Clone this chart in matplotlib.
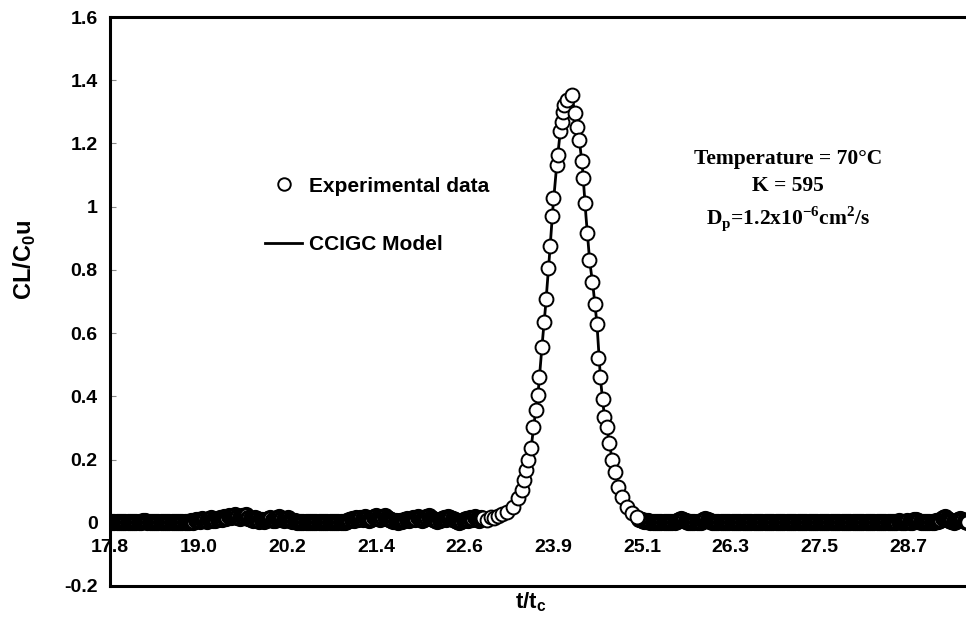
import numpy as np
import matplotlib
matplotlib.use('Agg')
import matplotlib.pyplot as plt
from matplotlib.lines import Line2D

plt.rcParams['font.family'] = ['Liberation Sans', 'DejaVu Sans']
plt.rcParams['font.weight'] = 'bold'
plt.rcParams['mathtext.fontset'] = 'custom'
plt.rcParams['mathtext.bf'] = 'Liberation Serif:bold'
plt.rcParams['mathtext.sf'] = 'Liberation Sans:bold'
plt.rcParams['mathtext.rm'] = 'Liberation Sans:bold'

# --- data ---
sample_step = 0.03

# baseline before the peak (in 1/1000), sampled every 0.03 from 17.80
base_left_start = 17.80
base_left_milli = [2, 1, 2, 3, 2, 1, 2, 3, 2, 2,
                   3, 2, 1, 2, 3, 5, 6, 4, 2, 2,
                   1, 2, 3, 2, 2, 1, 2, 3, 2, 1,
                   2, 3, 2, 2, 3, 4, 3, 5, 4, 8,
                   10, 7, 12, 9, 6, 11, 14, 10, 8, 13,
                   16, 12, 18, 14, 20, 17, 22, 25, 19, 15,
                   21, 18, 24, 16, 12, 9, 14, 11, 7, 10,
                   6, 9, 12, 15, 10, 8, 14, 18, 12, 9,
                   13, 16, 10, 7, 5, 4, 3, 2, 3, 2,
                   2, 1, 2, 3, 2, 2, 1, 2, 3, 2,
                   1, 2, 2, 3, 2, 3, 4, 3, 6, 9,
                   12, 8, 14, 11, 16, 13, 19, 15, 10, 13,
                   17, 21, 14, 11, 18, 22, 16, 12, 9, 7,
                   5, 4, 6, 5, 8, 11, 9, 13, 16, 12,
                   18, 14, 10, 13, 17, 20, 15, 11, 8, 6,
                   9, 12, 16, 13, 19, 15, 11, 8, 5, 4,
                   6, 9, 12, 8, 14, 11, 17, 13, 10, 15]

# peak points (t/tc, CL/C0u)
peak_t = [22.90, 22.95, 23.00, 23.05, 23.10, 23.15, 23.219, 23.31, 23.378, 23.424,
          23.456, 23.483, 23.514, 23.551, 23.583, 23.616, 23.643, 23.665, 23.698, 23.729,
          23.756, 23.788, 23.811, 23.834, 23.856, 23.902, 23.924, 23.948, 23.971, 23.984,
          24.002, 24.039, 24.107, 24.152, 24.176, 24.211, 24.244, 24.266, 24.289, 24.312,
          24.348, 24.381, 24.426, 24.449, 24.467, 24.494, 24.531, 24.549, 24.586, 24.617,
          24.654, 24.699, 24.744, 24.790, 24.858, 24.927, 24.995]
peak_y = [0.015, 0.010, 0.018, 0.014, 0.022, 0.028, 0.035, 0.051, 0.078, 0.104,
          0.135, 0.167, 0.199, 0.236, 0.304, 0.357, 0.404, 0.462, 0.557, 0.636,
          0.707, 0.805, 0.874, 0.969, 1.027, 1.132, 1.164, 1.238, 1.269, 1.301,
          1.322, 1.338, 1.354, 1.296, 1.253, 1.211, 1.143, 1.090, 1.011, 0.916,
          0.832, 0.763, 0.692, 0.629, 0.522, 0.462, 0.392, 0.336, 0.302, 0.252,
          0.199, 0.162, 0.114, 0.080, 0.051, 0.030, 0.019]

# baseline after the peak (in 1/1000), sampled every 0.03 from 25.03
base_right_start = 25.03
base_right_milli = [12, 9, 7, 5, 6, 4, 3, 4, 2, 3,
                    2, 3, 4, 2, 3, 2, 4, 6, 10, 13,
                    9, 5, 3, 2, 3, 2, 3, 2, 4, 8,
                    12, 10, 5, 3, 2, 3, 2, 1, 2, 3,
                    2, 2, 1, 2, 3, 2, 1, 2, 2, 3,
                    2, 1, 2, 3, 2, 2, 1, 2, 3, 2,
                    1, 2, 2, 3, 2, 1, 2, 3, 2, 2,
                    3, 2, 1, 2, 2, 3, 2, 4, 3, 2,
                    1, 2, 3, 2, 2, 1, 2, 3, 2, 1,
                    2, 3, 2, 2, 1, 2, 3, 2, 2, 3,
                    2, 1, 2, 3, 4, 2, 3, 2, 1, 2,
                    3, 2, 2, 1, 2, 3, 2, 4, 5, 3,
                    2, 3, 6, 4, 3, 8, 10, 7, 4, 3,
                    2, 3, 2, 4, 3, 5, 7, 10, 14, 18,
                    12, 8, 5, 4, 6, 9, 12, 8, 5, 4]

# CCIGC model curve
model_t = [17.8, 22.8, 23.0, 23.1, 23.2, 23.3, 23.4, 23.5, 23.55, 23.6, 23.65, 23.7,
           23.75, 23.8, 23.85, 23.9, 23.95, 24.0, 24.05, 24.1, 24.15, 24.2, 24.25,
           24.3, 24.35, 24.4, 24.45, 24.5, 24.55, 24.6, 24.65, 24.7, 24.75, 24.8,
           24.9, 25.0, 25.1, 25.2, 29.6]
model_y = [0.0, 0.0, 0.005, 0.012, 0.03, 0.055, 0.095, 0.18, 0.235, 0.33, 0.42, 0.56,
           0.69, 0.84, 1.0, 1.13, 1.24, 1.31, 1.345, 1.35, 1.30, 1.23, 1.13,
           0.97, 0.83, 0.74, 0.63, 0.45, 0.34, 0.28, 0.21, 0.16, 0.11, 0.075,
           0.035, 0.015, 0.005, 0.0, 0.0]

xtick_vals = [17.800, 19.011, 20.222, 21.433, 22.644, 23.855, 25.066, 26.277, 27.488, 28.699]
xtick_labels = ['17.8', '19.0', '20.2', '21.4', '22.6', '23.9', '25.1', '26.3', '27.5', '28.7']
ytick_vals = [-0.2, 0, 0.2, 0.4, 0.6, 0.8, 1.0, 1.2, 1.4, 1.6]
ytick_labels = ['-0.2', '0', '0.2', '0.4', '0.6', '0.8', '1', '1.2', '1.4', '1.6']

t_left = base_left_start + sample_step * np.arange(len(base_left_milli))
t_right = base_right_start + sample_step * np.arange(len(base_right_milli))
y_left = np.array(base_left_milli) / 1000
y_right = np.array(base_right_milli) / 1000

fig = plt.figure(figsize=(9.66, 6.17), dpi=100)
ax = fig.add_axes([110/966, 31/617, 856/966, 569/617])

marker_kw = dict(marker='o', ls='none', ms=10, mfc='white', mec='black')
ax.plot(model_t, model_y, color='black', lw=2, zorder=2)
# the dense baseline points overlap into a dark band in the original scan
ax.plot(t_left, y_left, mew=2.4, zorder=3, **marker_kw)
ax.plot(t_right, y_right, mew=2.4, zorder=3, **marker_kw)
ax.plot(peak_t, peak_y, mew=1.4, zorder=4, **marker_kw)

ax.set_xlim(17.8, 29.49)
ax.set_ylim(-0.2, 1.6)

ax.set_xticks(xtick_vals, xtick_labels)
ax.set_yticks(ytick_vals, ytick_labels)
ax.tick_params(axis='x', length=0, pad=12, labelsize=14)
ax.tick_params(axis='y', direction='in', length=4, width=0.8, color='#888888', pad=9,
               labelsize=14)

# x axis crosses at y = 0, frame closed at y = -0.2
ax.spines['bottom'].set_position(('data', 0))
ax.spines['bottom'].set_color('none')
ax.spines['right'].set_visible(False)
ax.spines['left'].set_linewidth(2.2)
ax.spines['top'].set_linewidth(2.2)
ax.axhline(-0.2, color='black', lw=2.2, clip_on=False, zorder=5)

ax.set_ylabel(r'CL/C$_{\mathsf{0}}$u', fontsize=17, fontweight='bold')
ax.yaxis.set_label_coords(-0.084, 0.573)
ax.text(0.492, -0.007, r't/t$_{\mathsf{c}}$', transform=ax.transAxes, fontsize=16,
        fontweight='bold', ha='center', va='top')

handles = [Line2D([], [], marker='o', ls='none', ms=9, mfc='white', mec='black', mew=1.4),
           Line2D([], [], color='black', lw=2)]
ax.legend(handles, ['Experimental data', 'CCIGC Model'], loc='center left',
          bbox_to_anchor=(0.181, 0.651), frameon=False, borderpad=0, borderaxespad=0,
          handlelength=1.8, handletextpad=0.3, labelspacing=1.9,
          prop={'size': 15, 'weight': 'bold'})

ax.text(0.792, 0.694,
        'Temperature = 70°C\nK = 595\n' + r'D$_{\mathbf{p}}$=1.2x10$^{\mathbf{-6}}$cm$^{\mathbf{2}}$/s',
        transform=ax.transAxes, ha='center', va='center', multialignment='center',
        fontsize=15.5, fontweight='bold', family=['Liberation Serif', 'DejaVu Serif'],
        linespacing=1.45)

plt.savefig('out.png', dpi=100)
